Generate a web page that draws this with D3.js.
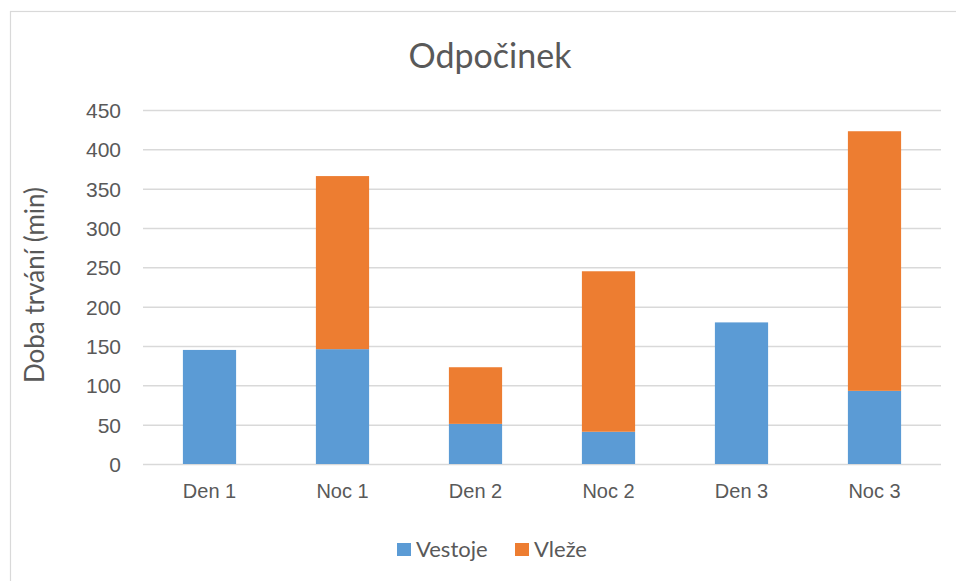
<!DOCTYPE html>
<html>
<head>
<meta charset="utf-8">
<script src="https://cdn.jsdelivr.net/npm/d3@7"></script>
<style>
  body { margin: 0; background: #fff; }
  svg { font-family: Lato, "Open Sans", sans-serif; }
  .axis text { fill: #595959; }
  .axis path, .axis line { stroke: none; }
  .grid line { stroke: #d9d9d9; stroke-width: 1.5; }
  .grid path { stroke: none; }
</style>
</head>
<body>
<div id="graf"></div>
<script>
// Datos
const categorias = ["Den 1", "Noc 1", "Den 2", "Noc 2", "Den 3", "Noc 3"]
const series = ["Vestoje", "Vleže"]
const vestoje = [145, 146, 51, 41, 180, 93]
const vleze = [0, 220, 72, 204, 0, 330]
const yTicks = [0, 50, 100, 150, 200, 250, 300, 350, 400, 450]
const colores = ["#5b9bd5", "#ed7d31"]

const draw = () => {
  const anchoTotal = 956
  const altoTotal = 581
  const margins = { top: 110, right: 15, bottom: 117, left: 143 }
  const ancho = anchoTotal - margins.left - margins.right
  const alto = altoTotal - margins.top - margins.bottom

  const dataset = categorias.map((c, i) => ({ cat: c, Vestoje: vestoje[i], "Vleže": vleze[i] }))
  const stack = d3.stack().keys(series)(dataset)

  const x = d3.scaleBand().domain(categorias).range([0, 798]).paddingInner(0.6).paddingOuter(0.3)
  const y = d3.scaleLinear().domain([0, 450]).range([alto, 0])
  const color = d3.scaleOrdinal().domain(series).range(colores)

  const svg = d3.select("#graf")
    .append("svg")
    .attr("width", anchoTotal)
    .attr("height", altoTotal)

  // Marco
  svg.append("rect")
    .attr("x", 10.5)
    .attr("y", 11.5)
    .attr("width", 960)
    .attr("height", 600)
    .attr("fill", "none")
    .attr("stroke", "#d9d9d9")
    .attr("stroke-width", 1.2)

  const chart = svg.append("g")
    .attr("transform", `translate(${margins.left}, ${margins.top})`)

  // Rejilla
  chart.append("g")
    .classed("grid", true)
    .call(d3.axisLeft(y).tickValues(yTicks).tickSize(-798).tickFormat(""))

  // Barras
  chart.selectAll("g.serie")
    .data(stack)
    .join("g")
    .classed("serie", true)
    .attr("fill", (d) => color(d.key))
    .selectAll("rect")
    .data((d) => d)
    .join("rect")
    .attr("x", (d) => x(d.data.cat))
    .attr("y", (d) => y(d[1]))
    .attr("width", x.bandwidth())
    .attr("height", (d) => y(d[0]) - y(d[1]))

  // Ejes
  const yAxisGroup = chart.append("g")
    .classed("axis", true)
    .call(d3.axisLeft(y).tickValues(yTicks).tickSize(0).tickPadding(22))
  yAxisGroup.selectAll("text").attr("dy", "0.35em").style("font-size", "21px")

  chart.append("g")
    .classed("axis", true)
    .attr("transform", `translate(0, ${alto})`)
    .call(d3.axisBottom(x).tickSize(0).tickPadding(20))
    .selectAll("text")
    .style("font-size", "20px")

  // Titulo eje Y
  svg.append("text")
    .attr("transform", `translate(44, 285) rotate(-90)`)
    .attr("text-anchor", "middle")
    .attr("fill", "#595959")
    .style("font-size", "26px")
    .text("Doba trvání (min)")

  // Titulo
  svg.append("text")
    .attr("x", 490)
    .attr("y", 68)
    .attr("text-anchor", "middle")
    .attr("fill", "#595959")
    .style("font-size", "34px")
    .text("Odpočinek")

  // Leyenda
  const legendX = [397, 515]
  const legend = svg.selectAll("g.legend")
    .data(series)
    .join("g")
    .classed("legend", true)
    .attr("transform", (d, i) => `translate(${legendX[i]}, 543)`)
  legend.append("rect")
    .attr("width", 14)
    .attr("height", 13)
    .attr("fill", (d) => color(d))
  legend.append("text")
    .attr("x", 19)
    .attr("y", 14)
    .attr("fill", "#595959")
    .style("font-size", "22px")
    .text((d) => d)
}

draw()
</script>
</body>
</html>
